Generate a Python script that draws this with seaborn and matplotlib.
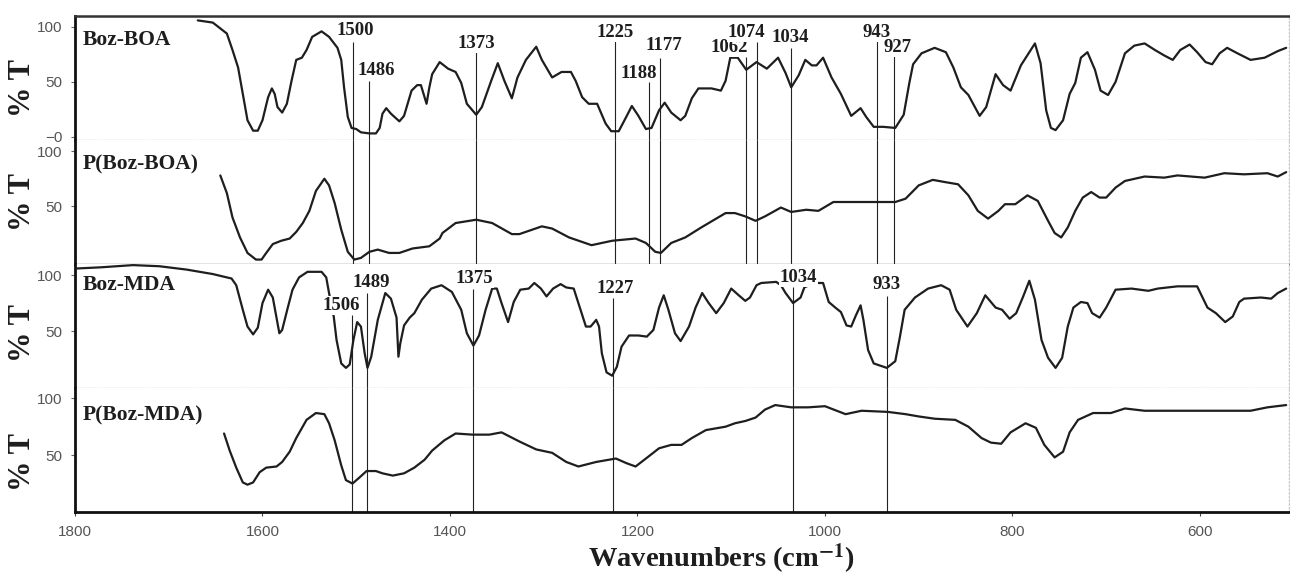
import numpy as np
import pandas as pd
import seaborn as sns
import matplotlib
matplotlib.use("Agg")
import matplotlib.pyplot as plt
import matplotlib.transforms as mtransforms

# ---------------- data ----------------
boa_wn = [1669,1653,1638,1632,1626,1621,1616,1610,1605,1600,1594,1590,1587,1584,1579,1574,1569,1564,1558,1553,
          1547,1537,1529,1520,1516,1513,1509,1505,1500,1495,1486,1479,1475,1472,1468,1463,1454,1449,1441,1435,
          1431,1425,1422,1419,1411,1402,1394,1388,1382,1372,1366,1356,1349,1342,1334,1328,1319,1308,1302,1291,
          1281,1271,1266,1259,1252,1243,1234,1228,1220,1212,1206,1199,1191,1185,1177,1171,1164,1154,1149,1142,
          1135,1121,1111,1106,1101,1093,1084,1073,1062,1050,1042,1036,1028,1021,1014,1009,1002,993,983,972,
          962,956,948,938,925,916,910,906,897,883,871,863,855,847,835,828,818,810,802,791,
          776,770,764,759,754,746,739,733,727,720,712,706,698,690,680,670,659,648,638,629,
          621,611,603,594,587,579,571,560,546,531,517,508]
boa_t = [106,104,94,79,63,39,15,5.5,5.5,15,36,44,39,27,22,30,51,70,72,79,
         91,96,91,81,70,45,18,8,7,4,3,3,8,21,26,21,14,19,42,47,
         47,30,45,57,68,62,59,49,30,20,27,51,67,51,35,54,70,82,70,54,
         59,59,51,36,30,30,12,5,5,18,28,19,7,8,24,31,22,15,19,35,
         44,44,42,51,72,72,61,68,62,72,58,45,56,70,65,65,72,54,39,19,
         26,18,9,9,8,20,49,66,76,81,77,63,45,38,19,27,57,47,42,65,
         85,67,24,8,6,15,39,49,72,77,61,42,38,50,76,83,85,79,74,70,
         79,84,77,68,66,76,81,76,70,72,78,81]

pboa_wn = [1645,1638,1632,1624,1616,1607,1601,1596,1589,1580,1571,1564,1557,1550,1543,1534,1529,1523,1516,1509,
           1502,1495,1486,1477,1465,1454,1440,1422,1411,1408,1394,1372,1355,1334,1326,1302,1291,1273,1249,1227,
           1202,1191,1181,1175,1164,1149,1132,1106,1096,1085,1074,1064,1047,1036,1020,1007,991,972,943,925,
           914,900,885,872,858,847,837,826,815,808,797,784,773,762,755,748,741,733,725,716,
           707,700,690,680,659,638,624,595,574,553,528,517,508]
pboa_t = [78,62,40,22,8,2,2,8,16,19,21,27,35,46,64,75,69,53,29,9,
          2,3.5,9,11,8,8,12,14,21,26,35,38,35,25,25,32,30,22,15,19,
          21,17,9,8,17,22,31,44,44,41,37,41,49,45,47,46,54,54,54,54,
          57,69,74,72,70,60,46,39,46,52,52,60,55,37,26,22,31,46,58,63,
          58,58,67,73,77,76,78,76,80,79,80,77,81]

mda_wn = [1798,1773,1738,1710,1681,1653,1633,1628,1621,1616,1610,1605,1600,1594,1589,1585,1582,1579,1573,1568,
          1561,1552,1537,1532,1529,1524,1521,1516,1511,1507,1503,1499,1495,1491,1488,1484,1477,1469,1463,1457,
          1455,1453,1449,1443,1438,1430,1420,1409,1398,1388,1382,1375,1369,1362,1355,1350,1345,1338,1332,1325,
          1316,1310,1303,1297,1290,1282,1276,1268,1263,1255,1250,1244,1241,1238,1233,1227,1222,1217,1209,1199,
          1190,1183,1177,1172,1167,1160,1154,1145,1138,1131,1124,1116,1108,1100,1092,1085,1080,1073,1068,1052,
          1047,1042,1034,1026,1022,1012,1002,996,989,983,977,972,967,962,959,954,948,941,934,925,
          920,915,904,890,876,867,860,848,838,829,818,811,803,796,789,782,776,769,762,754,
          747,741,735,727,720,715,707,700,690,673,655,645,624,603,592,583,573,565,558,553,
          535,524,517,508]
mda_t = [106,107,109,108,105,101,97,91,69,54,47,53,75,87,80,62,48,51,71,87,
         98,103,103,98,84,63,42,21,17,20,42,58,54,30,17,27,60,84,79,62,
         27,39,55,62,66,78,88,91,85,69,48,37,46,69,88,88,75,58,76,87,
         88,93,88,81,88,92,89,88,75,54,54,60,54,30,13,10,18,36,46,46,
         45,51,71,82,69,48,41,54,71,84,75,66,75,88,82,77,80,91,93,94,
         91,84,75,80,89,93,93,76,71,67,55,54,64,73,60,33,21,19,17,23,
         45,69,80,88,91,87,69,54,66,82,71,69,61,66,80,95,78,42,26,17,
         26,54,71,76,75,66,62,71,87,88,86,88,90,90,71,66,58,63,76,79,
         80,79,84,88]

pmda_wn = [1641,1635,1628,1621,1616,1610,1603,1596,1585,1579,1571,1564,1553,1543,1534,1529,1523,1516,1511,1504,
           1497,1489,1479,1472,1461,1449,1438,1427,1419,1406,1394,1376,1358,1345,1326,1308,1291,1276,1263,1244,
           1223,1212,1202,1191,1177,1164,1153,1142,1127,1106,1096,1085,1074,1064,1053,1036,1018,1000,978,961,
           933,914,900,883,861,847,833,823,812,802,786,775,766,755,746,739,730,714,695,680,
           659,624,588,546,528,508]
pmda_t = [69,54,39,26,24,26,35,39,40,44,53,65,81,87,86,78,63,41,28,25,
          30,36,36,34,32,34,39,46,54,63,69,68,68,70,62,55,52,44,40,44,
          47,43,40,47,56,59,59,65,72,75,78,80,83,90,94,92,92,93,86,89,
          88,86,84,82,81,75,65,61,60,70,78,74,59,48,53,70,81,87,87,91,
          89,89,89,89,92,94]

series_names = ["Boz-BOA", "P(Boz-BOA)", "Boz-MDA", "P(Boz-MDA)"]
series_wn = [boa_wn, pboa_wn, mda_wn, pmda_wn]
series_t = [boa_t, pboa_t, mda_t, pmda_t]

# peak marker lines (upper pair of spectra)
top_pk_pos = [1503, 1486, 1372.5, 1224, 1188, 1176, 1084, 1073, 1036, 945, 926]
top_pk_top = [86, 51, 79, 88, 50, 72, 73, 86, 81, 88, 74]
top_pk_lab = ["1500", "1486", "1373", "1225", "1188", "1177", "1062", "1074", "1034", "943", "927"]
top_lab_x = [1501, 1479, 1372, 1224, 1199, 1172, 1102, 1084, 1037, 945, 923]
top_lab_y = [97, 60, 85, 95, 58, 83, 81, 95, 90, 95, 81]

# peak marker lines (lower pair of spectra)
bot_pk_pos = [1505, 1489, 1375, 1226, 1034, 934]
bot_pk_top = [64, 84, 88, 80, 89, 81]
bot_pk_lab = ["1506", "1489", "1375", "1227", "1034", "933"]
bot_lab_x = [1516, 1484, 1374, 1224, 1028, 934]
bot_lab_y = [73, 93, 97, 88, 98, 92]

x_ticks = [1800, 1600, 1400, 1200, 1000, 800, 600]

# ---------------- style ----------------
sns.set_theme(style="white")
plt.rcParams["font.family"] = ["Liberation Sans", "DejaVu Sans"]
plt.rcParams["mathtext.fontset"] = "stix"
SERIF = ["Liberation Serif", "DejaVu Serif"]

W, H = 1290, 575
fig = plt.figure(figsize=(W / 100, H / 100), dpi=100)
gs = fig.add_gridspec(4, 1, left=75 / W, right=1289 / W, top=1 - 16 / H, bottom=1 - 512 / H, hspace=0)
axes = [fig.add_subplot(gs[i, 0]) for i in range(4)]
ylims = [(-3, 110), (-2, 110), (-1, 110), (0, 109)]
name_y = [88, 88, 91, 85]
ylab_y = [0.42, 0.50, 0.44, 0.40]
curve_color = "#1e1e1e"

for i, ax in enumerate(axes):
    df = pd.DataFrame({"wn": series_wn[i], "T": series_t[i]})
    sns.lineplot(data=df, x="wn", y="T", ax=ax, color=curve_color, linewidth=1.6,
                 estimator=None, sort=False, zorder=3,
                 solid_joinstyle="round", solid_capstyle="round")
    ax.set_xlim(1800, 505)
    ax.set_ylim(*ylims[i])
    ax.set_xlabel("")
    ax.set_ylabel("% T", fontfamily=SERIF, fontweight="bold", fontsize=22, color="#1e1e1e")
    ax.yaxis.set_label_coords(-0.031, ylab_y[i])
    if i == 0:
        ax.set_yticks([0, 50, 100])
        ax.set_yticklabels(["\u22120", "50", "100"])
    else:
        ax.set_yticks([50, 100])
        ax.set_yticklabels(["50", "100"])
    ax.tick_params(axis="y", left=True, length=3, width=0.8, color="#666", pad=6,
                   labelsize=11, labelcolor="#555")
    ax.set_xticks(x_ticks)
    if i < 3:
        ax.tick_params(axis="x", bottom=False, labelbottom=False)
    else:
        ax.tick_params(axis="x", bottom=True, length=3, width=0.8, color="#444", pad=6,
                       labelsize=11, labelcolor="#555")
    for s in ["left", "right", "top", "bottom"]:
        ax.spines[s].set_visible(True)
    ax.spines["left"].set_color("#111")
    ax.spines["left"].set_linewidth(2.0)
    ax.spines["right"].set_color("#c8c8c8")
    ax.spines["right"].set_linestyle(":")
    ax.spines["right"].set_linewidth(1.0)
    ax.spines["top"].set_visible(i == 0)
    ax.spines["top"].set_color("#333")
    ax.spines["top"].set_linewidth(1.8)
    if i == 3:
        ax.spines["bottom"].set_color("#111")
        ax.spines["bottom"].set_linewidth(2.0)
    elif i == 1:
        ax.spines["bottom"].set_color("#777")
        ax.spines["bottom"].set_linewidth(1.0)
    else:
        ax.spines["bottom"].set_color("#bdbdbd")
        ax.spines["bottom"].set_linestyle(":")
        ax.spines["bottom"].set_linewidth(1.0)
    trans = mtransforms.blended_transform_factory(ax.transAxes, ax.transData)
    ax.text(0.0066, name_y[i], series_names[i], transform=trans, ha="left", va="center",
            fontfamily=SERIF, fontweight="bold", fontsize=15.5, color="#1e1e1e", zorder=5)

# peak lines and labels
lab_kw = dict(ha="center", va="center", fontfamily=SERIF, fontweight="bold", fontsize=13.5,
              color="#1e1e1e", zorder=6, clip_on=False,
              bbox=dict(facecolor="white", edgecolor="none", pad=0.6))
ax1, ax2, ax3, ax4 = axes
for x, top in zip(top_pk_pos, top_pk_top):
    ax1.vlines(x, ylims[0][0], top, color="#222", linewidth=0.8, zorder=2)
    ax2.axvline(x, color="#222", linewidth=0.8, zorder=2)
for lab, lx, ly in zip(top_pk_lab, top_lab_x, top_lab_y):
    ax1.text(lx, ly, lab, **lab_kw)
for x, top in zip(bot_pk_pos, bot_pk_top):
    ax3.vlines(x, ylims[2][0], top, color="#222", linewidth=0.8, zorder=2)
    ax4.axvline(x, color="#222", linewidth=0.8, zorder=2)
for lab, lx, ly in zip(bot_pk_lab, bot_lab_x, bot_lab_y):
    ax3.text(lx, ly, lab, **lab_kw)

fig.text(722 / W, 1 - 567 / H, r"Wavenumbers (cm$^{\mathbf{-1}}$)", ha="center", va="baseline",
         fontfamily=SERIF, fontweight="bold", fontsize=20.5, color="#1e1e1e")

fig.savefig("out.png", dpi=100, facecolor="white")
